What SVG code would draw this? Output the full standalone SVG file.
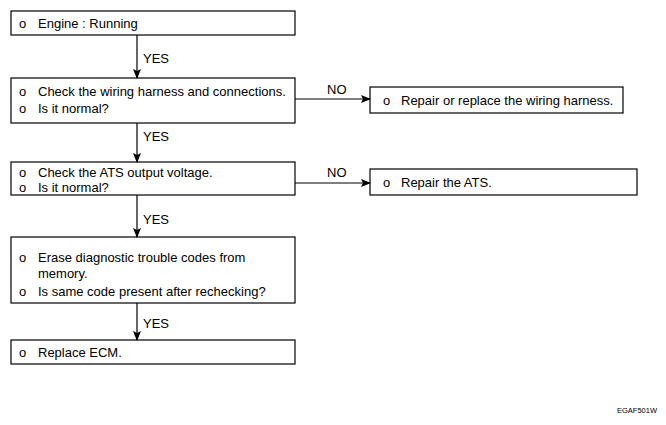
<svg xmlns="http://www.w3.org/2000/svg" width="666" height="425" viewBox="0 0 666 425">
<style>
rect{fill:#fff;stroke:#000;stroke-width:1.2}
text{font-family:"Liberation Sans",Arial,sans-serif;font-size:13px;fill:#000}
.c line{stroke:#000;stroke-width:1.2}
.code{font-size:7.5px}
</style>
<defs>
<marker id="ah" markerWidth="10" markerHeight="8" refX="9" refY="4" orient="auto" markerUnits="userSpaceOnUse">
<path d="M0,0 L10,4 L0,8 L2,4 Z" fill="#000"/>
</marker>
</defs>
<rect x="0" y="0" width="666" height="425" style="stroke:none"/>
<g id="n1"><rect x="11" y="11" width="284" height="24"/><text x="19" y="28">o</text><text x="38" y="28">Engine : Running</text></g>
<g id="n2"><rect x="11" y="78" width="284" height="45"/><text x="19" y="96">o</text><text x="38" y="96">Check the wiring harness and connections.</text><text x="19" y="113">o</text><text x="38" y="113">Is it normal?</text></g>
<g id="n3"><rect x="370" y="87" width="253" height="26"/><text x="383" y="105">o</text><text x="401" y="105">Repair or replace the wiring harness.</text></g>
<g id="n4"><rect x="11" y="162" width="284" height="33"/><text x="19" y="177">o</text><text x="38" y="177">Check the ATS output voltage.</text><text x="19" y="192">o</text><text x="38" y="192">Is it normal?</text></g>
<g id="n5"><rect x="370" y="169" width="267" height="26"/><text x="383" y="187">o</text><text x="401" y="187">Repair the ATS.</text></g>
<g id="n6"><rect x="11" y="237" width="284" height="66"/><text x="19" y="262">o</text><text x="38" y="262">Erase diagnostic trouble codes from</text><text x="38" y="278">memory.</text><text x="19" y="296">o</text><text x="38" y="296">Is same code present after rechecking?</text></g>
<g id="n7"><rect x="11" y="340" width="284" height="24"/><text x="19" y="357">o</text><text x="38" y="357">Replace ECM.</text></g>
<g class="c" id="connectors">
<line x1="137" y1="35" x2="137" y2="78" marker-end="url(#ah)"/>
<line x1="137" y1="123" x2="137" y2="162" marker-end="url(#ah)"/>
<line x1="137" y1="195" x2="137" y2="237" marker-end="url(#ah)"/>
<line x1="137" y1="303" x2="137" y2="340" marker-end="url(#ah)"/>
<line x1="295" y1="99" x2="370" y2="99" marker-end="url(#ah)"/>
<line x1="295" y1="183" x2="370" y2="183" marker-end="url(#ah)"/>
<text x="143" y="63">YES</text>
<text x="143" y="141">YES</text>
<text x="143" y="224">YES</text>
<text x="143" y="328">YES</text>
<text x="327" y="94">NO</text>
<text x="327" y="177">NO</text>
</g>
<text class="code" x="617" y="413">EGAF501W</text>
</svg>
